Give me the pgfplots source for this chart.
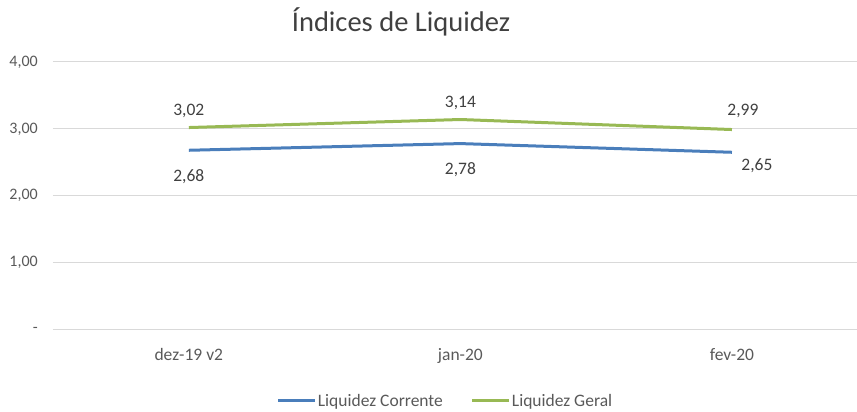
\documentclass[border=0pt]{standalone}
\usepackage{pgfplots}
\pgfplotsset{compat=1.18}
\usepackage{fontspec}
\setmainfont{Carlito}
\definecolor{cblue}{HTML}{4A7EBB}
\definecolor{cgreen}{HTML}{98B954}
\definecolor{tgray}{HTML}{595959}
\definecolor{lgray}{HTML}{404040}
\definecolor{gridc}{HTML}{D9D9D9}
\begin{document}
\begin{tikzpicture}
\useasboundingbox (0,0) rectangle (857pt,412pt);
\begin{axis}[
  at={(53pt,82.5pt)}, anchor=south west,
  width=804pt, height=267.5pt, scale only axis,
  xmin=-0.5, xmax=2.4604, ymin=0, ymax=4,
  clip=false,
  axis line style={draw=none},
  major tick length=0pt,
  xmajorgrids=false, ymajorgrids=true,
  y grid style={draw=gridc, line width=1pt},
  xtick={0,1,2},
  xticklabels={dez-19 v2, jan-20, fev-20},
  ytick={0,1,2,3,4},
  yticklabels={{-},{1,00},{2,00},{3,00},{4,00}},
  ticklabel style={font=\fontsize{16}{18}\selectfont, text=tgray},
  xticklabel style={font=\fontsize{17.5}{20}\selectfont},
  yticklabel style={anchor=east, inner sep=0pt, xshift=-15pt},
  xticklabel style={anchor=base, inner sep=0pt, yshift=-31pt},
  /pgf/number format/assume math mode=true,
  /pgf/number format/.cd, fixed, fixed zerofill, precision=2, use comma, /pgfplots/.cd,
  nodes near coords,
  nodes near coords style={font=\fontsize{17.5}{20}\selectfont, text=lgray, anchor=center, inner sep=0pt},
  title={\fontsize{28.5}{32}\selectfont Índices de Liquidez},
  title style={at={(axis description cs:0.4328,1.127)}, anchor=center, text=lgray, inner sep=0pt},
  legend columns=2,
  legend style={at={(axis description cs:0.4876,-0.267)}, anchor=center, draw=none, fill=none,
    font=\fontsize{17.5}{20}\selectfont, text=tgray,
    /tikz/every even column/.append style={column sep=27pt},
    nodes={inner sep=1pt}},
  legend image code/.code={\draw[#1, line width=3pt] (0pt,0pt) -- (37pt,0pt);},
]
\addplot[cblue, line width=3pt, line join=round, mark=none,
  every node near coord/.append style={yshift=-26pt},
  coordinate style/.condition={x>1.5}{xshift=25pt, yshift=13pt}]
  coordinates {(0,2.68) (1,2.78) (2,2.65)};
\addlegendentry{Liquidez Corrente}
\addplot[cgreen, line width=3pt, line join=round, mark=none,
  every node near coord/.append style={yshift=17pt},
  coordinate style/.condition={x>1.5}{xshift=11pt, yshift=2pt}]
  coordinates {(0,3.02) (1,3.14) (2,2.99)};
\addlegendentry{Liquidez Geral}
\end{axis}
\end{tikzpicture}
\end{document}
